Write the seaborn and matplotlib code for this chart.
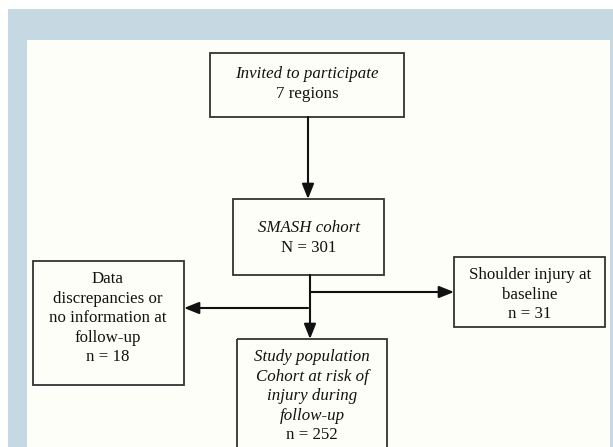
import matplotlib
matplotlib.use("Agg")
import matplotlib.pyplot as plt
import matplotlib.patches as mpatches
import seaborn as sns

# ----------- Flowchart content --------------

invited_lines = ["Invited to participate", "7 regions"]
invited_italic = [True, False]

smash_lines = ["SMASH cohort", "N = 301"]
smash_italic = [True, False]

study_lines = ["Study population", "Cohort at risk of", "injury during", "follow-up", "n = 252"]
study_italic = [True, True, True, True, False]

excluded_lines = ["Data", "discrepancies or", "no information at", "follow-up", "n = 18"]
baseline_lines = ["Shoulder injury at", "baseline", "n = 31"]

# ----------- Style --------------

sns.set_theme(style="white")
plt.rcParams['font.family'] = ['Liberation Serif', 'DejaVu Serif']

BLUE = "#c6d9e2"
PANEL = "#fdfef7"
EDGE = "#333333"
FS = 12.2
LINE_H = 19.6

fig = plt.figure(figsize=(6.13, 4.47), dpi=100)
fig.patch.set_facecolor("white")
ax = fig.add_axes([0, 0, 1, 1])
ax.set_xlim(0, 613)
ax.set_ylim(447, 0)
ax.axis("off")

# background frame
ax.add_patch(mpatches.Rectangle((8, 8.5), 605, 440, facecolor=BLUE, edgecolor="none"))
ax.add_patch(mpatches.Rectangle((27, 40), 583, 410, facecolor=PANEL, edgecolor="none"))


def box(x0, y0, x1, y1, lines, italic, first_y, cx=None):
    ax.add_patch(mpatches.Rectangle((x0, y0), x1 - x0, y1 - y0, facecolor="none",
                                    edgecolor=EDGE, linewidth=1.3, zorder=3))
    if cx is None:
        cx = (x0 + x1) / 2
    for i, (txt, it) in enumerate(zip(lines, italic)):
        ax.text(cx, first_y + i * LINE_H, txt, ha="center", va="center", fontsize=FS,
                style="italic" if it else "normal", color="#111111", zorder=4)


box(210, 53, 404, 117, invited_lines, invited_italic, 74, cx=307)
box(233, 199, 384, 275, smash_lines, smash_italic, 228, cx=309)
box(237, 339, 387, 470, study_lines, study_italic, 357, cx=312)
box(33, 261, 184, 385, excluded_lines, [False] * len(excluded_lines), 279, cx=108)
box(454, 257, 605, 327, baseline_lines, [False] * len(baseline_lines), 275, cx=530)

arrow_kw = dict(arrowstyle="-|>,head_length=0.75,head_width=0.3", color="#111111",
                lw=1.5, shrinkA=0, shrinkB=0, mutation_scale=12)


def arrow(x0, y0, x1, y1):
    ax.annotate("", xy=(x1, y1), xytext=(x0, y0), arrowprops=arrow_kw, zorder=5)


arrow(308, 117, 308, 199)
arrow(310, 275, 310, 339)
arrow(310, 292, 454, 292)
arrow(308, 308, 184, 308)

fig.savefig("out.png", dpi=100, facecolor=fig.get_facecolor())
